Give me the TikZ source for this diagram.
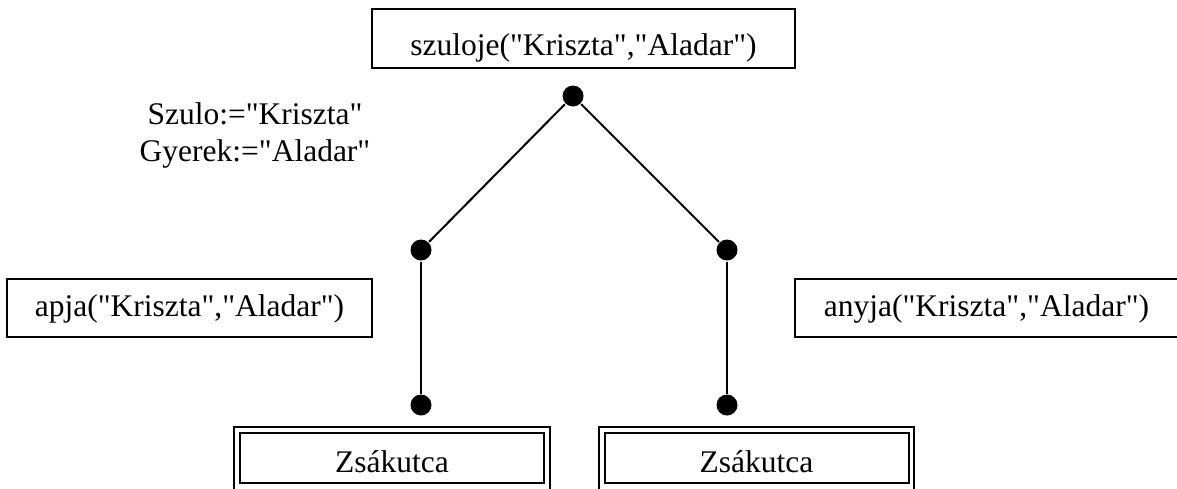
\documentclass[tikz,border=0pt]{standalone}
\usepackage{fontspec}
\setmainfont{Liberation Serif}[Ligatures=TeXOff]
\begin{document}
\begin{tikzpicture}[x=1pt,y=-1pt,line width=2pt,
  dot/.style={circle,fill=black,draw=none,inner sep=0pt,minimum size=21pt},
  txt/.style={font=\fontsize{31.5}{37}\selectfont,inner sep=0pt},
  box/.style={draw,line width=2pt,inner sep=0pt,outer sep=0pt,font=\fontsize{31.5}{37}\selectfont},
  conn/.style={line width=2pt}]
\useasboundingbox (0,0) rectangle (1177,488);
% top box
\node[box,minimum width=423pt,minimum height=59pt,text height=33pt,text depth=0pt] (top) at (583.5,38.5) {szuloje("Kriszta","Aladar")};
% side boxes
\node[box,minimum width=365pt,minimum height=58pt,text height=20pt,text depth=2.6pt] (apja) at (189.5,308) {apja("Kriszta","Aladar")};
\node[box,minimum width=383pt,minimum height=58pt,text height=20pt,text depth=2.6pt] (anyja) at (986.5,308) {anyja("Kriszta","Aladar")};
% label
\node[txt,anchor=base] (lbl1) at (255,124) {Szulo:="Kriszta"};
\node[txt,anchor=base] (lbl2) at (255,161) {Gyerek:="Aladar"};
% dots
\node[dot] (t) at (573,96) {};
\node[dot] (l1) at (421,250) {};
\node[dot] (r1) at (727,250) {};
\node[dot] (l2) at (421,405) {};
\node[dot] (r2) at (727,405) {};
\draw[conn] (t) -- (l1);
\draw[conn] (t) -- (r1);
\draw[conn] (l1) -- (l2);
\draw[conn] (r1) -- (r2);
% dead-end boxes (double frame)
\node[box,minimum width=304pt,minimum height=50pt,text height=28pt,text depth=0pt] (zs1) at (392,458) {Zsákutca};
\node[box,minimum width=304pt,minimum height=50pt,text height=28pt,text depth=0pt] (zs2) at (756.5,458) {Zsákutca};
\draw[line width=2.2pt] ([shift={(-5.7,-5.7)}]zs1.north west) rectangle ([shift={(5.7,8)}]zs1.south east);
\draw[line width=2.2pt] ([shift={(-5.7,-5.7)}]zs2.north west) rectangle ([shift={(5.7,8)}]zs2.south east);
\end{tikzpicture}
\end{document}
